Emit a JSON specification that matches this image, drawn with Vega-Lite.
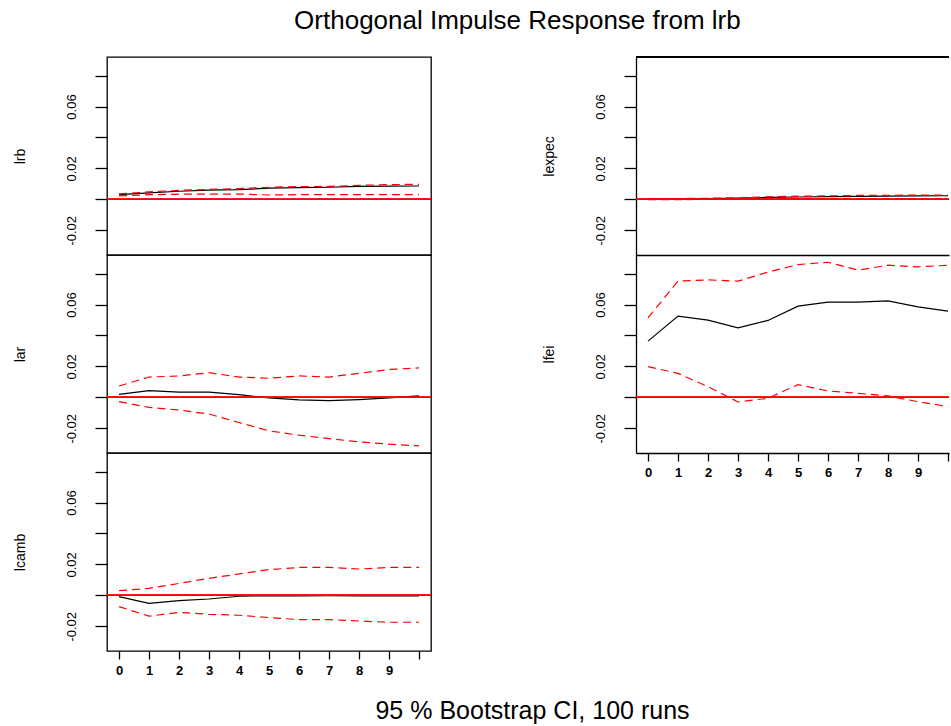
{
  "$schema": "https://vega.github.io/schema/vega-lite/v6.json",
  "padding": {"left": 12, "top": 8, "right": 0, "bottom": 0},
  "background": "white",
  "title": {"text": "Orthogonal Impulse Response from lrb", "fontSize": 26, "font": "Liberation Sans", "fontWeight": "normal", "color": "black", "anchor": "middle", "offset": 22, "dx": 36},
  "datasets": {
    "irf": [
      {"var": "lrb", "h": 0, "irf": 0.0030, "lower": 0.0022, "upper": 0.0035},
      {"var": "lrb", "h": 1, "irf": 0.0042, "lower": 0.0030, "upper": 0.0048},
      {"var": "lrb", "h": 2, "irf": 0.0052, "lower": 0.0033, "upper": 0.0058},
      {"var": "lrb", "h": 3, "irf": 0.0060, "lower": 0.0034, "upper": 0.0064},
      {"var": "lrb", "h": 4, "irf": 0.0063, "lower": 0.0034, "upper": 0.0069},
      {"var": "lrb", "h": 5, "irf": 0.0072, "lower": 0.0028, "upper": 0.0078},
      {"var": "lrb", "h": 6, "irf": 0.0075, "lower": 0.0030, "upper": 0.0082},
      {"var": "lrb", "h": 7, "irf": 0.0078, "lower": 0.0030, "upper": 0.0084},
      {"var": "lrb", "h": 8, "irf": 0.0083, "lower": 0.0030, "upper": 0.0090},
      {"var": "lrb", "h": 9, "irf": 0.0085, "lower": 0.0030, "upper": 0.0095},
      {"var": "lrb", "h": 10, "irf": 0.0086, "lower": 0.0030, "upper": 0.0097},
      {"var": "lar", "h": 0, "irf": 0.0019, "lower": -0.0028, "upper": 0.0073},
      {"var": "lar", "h": 1, "irf": 0.0043, "lower": -0.0065, "upper": 0.0131},
      {"var": "lar", "h": 2, "irf": 0.0034, "lower": -0.0082, "upper": 0.0138},
      {"var": "lar", "h": 3, "irf": 0.0034, "lower": -0.0108, "upper": 0.0159},
      {"var": "lar", "h": 4, "irf": 0.0017, "lower": -0.0163, "upper": 0.0131},
      {"var": "lar", "h": 5, "irf": -0.0004, "lower": -0.0217, "upper": 0.0123},
      {"var": "lar", "h": 6, "irf": -0.0017, "lower": -0.0245, "upper": 0.0138},
      {"var": "lar", "h": 7, "irf": -0.0022, "lower": -0.0267, "upper": 0.0131},
      {"var": "lar", "h": 8, "irf": -0.0015, "lower": -0.0288, "upper": 0.0155},
      {"var": "lar", "h": 9, "irf": -0.0004, "lower": -0.0303, "upper": 0.0180},
      {"var": "lar", "h": 10, "irf": 0.0009, "lower": -0.0314, "upper": 0.0190},
      {"var": "lcamb", "h": 0, "irf": -0.0009, "lower": -0.0073, "upper": 0.0030},
      {"var": "lcamb", "h": 1, "irf": -0.0052, "lower": -0.0135, "upper": 0.0045},
      {"var": "lcamb", "h": 2, "irf": -0.0034, "lower": -0.0110, "upper": 0.0077},
      {"var": "lcamb", "h": 3, "irf": -0.0024, "lower": -0.0123, "upper": 0.0110},
      {"var": "lcamb", "h": 4, "irf": -0.0006, "lower": -0.0129, "upper": 0.0138},
      {"var": "lcamb", "h": 5, "irf": -0.0002, "lower": -0.0144, "upper": 0.0166},
      {"var": "lcamb", "h": 6, "irf": -0.0004, "lower": -0.0157, "upper": 0.0180},
      {"var": "lcamb", "h": 7, "irf": -0.0002, "lower": -0.0157, "upper": 0.0180},
      {"var": "lcamb", "h": 8, "irf": -0.0004, "lower": -0.0166, "upper": 0.0170},
      {"var": "lcamb", "h": 9, "irf": -0.0004, "lower": -0.0174, "upper": 0.0180},
      {"var": "lcamb", "h": 10, "irf": -0.0004, "lower": -0.0174, "upper": 0.0180},
      {"var": "lexpec", "h": 0, "irf": 0.0000, "lower": -0.0002, "upper": 0.0003},
      {"var": "lexpec", "h": 1, "irf": 0.0002, "lower": -0.0002, "upper": 0.0005},
      {"var": "lexpec", "h": 2, "irf": 0.0004, "lower": 0.0000, "upper": 0.0007},
      {"var": "lexpec", "h": 3, "irf": 0.0008, "lower": 0.0003, "upper": 0.0010},
      {"var": "lexpec", "h": 4, "irf": 0.0012, "lower": 0.0005, "upper": 0.0016},
      {"var": "lexpec", "h": 5, "irf": 0.0015, "lower": 0.0004, "upper": 0.0020},
      {"var": "lexpec", "h": 6, "irf": 0.0017, "lower": 0.0005, "upper": 0.0022},
      {"var": "lexpec", "h": 7, "irf": 0.0019, "lower": 0.0005, "upper": 0.0025},
      {"var": "lexpec", "h": 8, "irf": 0.0021, "lower": 0.0004, "upper": 0.0026},
      {"var": "lexpec", "h": 9, "irf": 0.0022, "lower": 0.0004, "upper": 0.0027},
      {"var": "lexpec", "h": 10, "irf": 0.0023, "lower": 0.0004, "upper": 0.0028},
      {"var": "lfei", "h": 0, "irf": 0.0363, "lower": 0.0198, "upper": 0.0514},
      {"var": "lfei", "h": 1, "irf": 0.0525, "lower": 0.0155, "upper": 0.0751},
      {"var": "lfei", "h": 2, "irf": 0.0499, "lower": 0.0069, "upper": 0.0759},
      {"var": "lfei", "h": 3, "irf": 0.0449, "lower": -0.0030, "upper": 0.0751},
      {"var": "lfei", "h": 4, "irf": 0.0497, "lower": -0.0006, "upper": 0.0809},
      {"var": "lfei", "h": 5, "irf": 0.0589, "lower": 0.0082, "upper": 0.0858},
      {"var": "lfei", "h": 6, "irf": 0.0615, "lower": 0.0041, "upper": 0.0873},
      {"var": "lfei", "h": 7, "irf": 0.0615, "lower": 0.0026, "upper": 0.0822},
      {"var": "lfei", "h": 8, "irf": 0.0624, "lower": 0.0009, "upper": 0.0854},
      {"var": "lfei", "h": 9, "irf": 0.0585, "lower": -0.0028, "upper": 0.0843},
      {"var": "lfei", "h": 10, "irf": 0.0557, "lower": -0.0060, "upper": 0.0854}
    ]
  },
  "data": {"name": "irf"},
  "bounds": "flush",
  "spacing": 529,
  "hconcat": [
    {
      "bounds": "flush",
      "spacing": 0,
      "vconcat": [
        {
          "width": 324, "height": 198,
          "transform": [{"filter": {"field": "var", "equal": "lrb"}}],
          "layer": [
            {"mark": {"type": "line", "color": "black", "strokeWidth": 1.2},
             "encoding": {
               "x": {"field": "h", "type": "quantitative", "scale": {"domain": [-0.4, 10.4], "nice": false, "zero": false}, "axis": null},
               "y": {"field": "irf", "type": "quantitative", "title": "lrb", "scale": {"domain": [-0.036, 0.092], "nice": false, "zero": false},
                     "axis": {"values": [-0.02, 0, 0.02, 0.04, 0.06, 0.08], "labelExpr": "datum.value < -0.01 ? '-0.02' : (datum.value > 0.01 && datum.value < 0.03) ? '0.02' : (datum.value > 0.05 && datum.value < 0.07) ? '0.06' : ''"}}}},
            {"mark": {"type": "line", "color": "#ff0000", "strokeWidth": 1.2, "strokeDash": [8, 5]},
             "encoding": {"x": {"field": "h", "type": "quantitative", "axis": null}, "y": {"field": "upper", "type": "quantitative", "title": "lrb", "axis": {"values": [-0.02, 0, 0.02, 0.04, 0.06, 0.08], "labelExpr": "datum.value < -0.01 ? '-0.02' : (datum.value > 0.01 && datum.value < 0.03) ? '0.02' : (datum.value > 0.05 && datum.value < 0.07) ? '0.06' : ''"}}}},
            {"mark": {"type": "line", "color": "#ff0000", "strokeWidth": 1.2, "strokeDash": [8, 5]},
             "encoding": {"x": {"field": "h", "type": "quantitative", "axis": null}, "y": {"field": "lower", "type": "quantitative", "title": "lrb", "axis": {"values": [-0.02, 0, 0.02, 0.04, 0.06, 0.08], "labelExpr": "datum.value < -0.01 ? '-0.02' : (datum.value > 0.01 && datum.value < 0.03) ? '0.02' : (datum.value > 0.05 && datum.value < 0.07) ? '0.06' : ''"}}}},
            {"mark": {"type": "rule", "color": "#ff0000", "strokeWidth": 1},
             "encoding": {"y": {"datum": 0, "type": "quantitative", "title": "lrb", "axis": {"values": [-0.02, 0, 0.02, 0.04, 0.06, 0.08], "labelExpr": "datum.value < -0.01 ? '-0.02' : (datum.value > 0.01 && datum.value < 0.03) ? '0.02' : (datum.value > 0.05 && datum.value < 0.07) ? '0.06' : ''"}}}}
          ]
        },
        {
          "width": 324, "height": 198,
          "transform": [{"filter": {"field": "var", "equal": "lar"}}],
          "layer": [
            {"mark": {"type": "line", "color": "black", "strokeWidth": 1.2},
             "encoding": {
               "x": {"field": "h", "type": "quantitative", "scale": {"domain": [-0.4, 10.4], "nice": false, "zero": false}, "axis": null},
               "y": {"field": "irf", "type": "quantitative", "title": "lar", "scale": {"domain": [-0.036, 0.092], "nice": false, "zero": false},
                     "axis": {"values": [-0.02, 0, 0.02, 0.04, 0.06, 0.08], "labelExpr": "datum.value < -0.01 ? '-0.02' : (datum.value > 0.01 && datum.value < 0.03) ? '0.02' : (datum.value > 0.05 && datum.value < 0.07) ? '0.06' : ''"}}}},
            {"mark": {"type": "line", "color": "#ff0000", "strokeWidth": 1.2, "strokeDash": [8, 5]},
             "encoding": {"x": {"field": "h", "type": "quantitative", "axis": null}, "y": {"field": "upper", "type": "quantitative", "title": "lar", "axis": {"values": [-0.02, 0, 0.02, 0.04, 0.06, 0.08], "labelExpr": "datum.value < -0.01 ? '-0.02' : (datum.value > 0.01 && datum.value < 0.03) ? '0.02' : (datum.value > 0.05 && datum.value < 0.07) ? '0.06' : ''"}}}},
            {"mark": {"type": "line", "color": "#ff0000", "strokeWidth": 1.2, "strokeDash": [8, 5]},
             "encoding": {"x": {"field": "h", "type": "quantitative", "axis": null}, "y": {"field": "lower", "type": "quantitative", "title": "lar", "axis": {"values": [-0.02, 0, 0.02, 0.04, 0.06, 0.08], "labelExpr": "datum.value < -0.01 ? '-0.02' : (datum.value > 0.01 && datum.value < 0.03) ? '0.02' : (datum.value > 0.05 && datum.value < 0.07) ? '0.06' : ''"}}}},
            {"mark": {"type": "rule", "color": "#ff0000", "strokeWidth": 1},
             "encoding": {"y": {"datum": 0, "type": "quantitative", "title": "lar", "axis": {"values": [-0.02, 0, 0.02, 0.04, 0.06, 0.08], "labelExpr": "datum.value < -0.01 ? '-0.02' : (datum.value > 0.01 && datum.value < 0.03) ? '0.02' : (datum.value > 0.05 && datum.value < 0.07) ? '0.06' : ''"}}}}
          ]
        },
        {
          "width": 324, "height": 198,
          "transform": [{"filter": {"field": "var", "equal": "lcamb"}}],
          "layer": [
            {"mark": {"type": "line", "color": "black", "strokeWidth": 1.2},
             "encoding": {
               "x": {"field": "h", "type": "quantitative", "title": "95 % Bootstrap CI,  100 runs", "scale": {"domain": [-0.4, 10.4], "nice": false, "zero": false},
                     "axis": {"values": [0, 1, 2, 3, 4, 5, 6, 7, 8, 9, 10], "labelExpr": "datum.value < 9.5 ? datum.label : ''", "labelOverlap": false,
                              "titleFontSize": 25, "titleX": 425, "titleY": 67, "titleAlign": "center", "titleBaseline": "alphabetic"}},
               "y": {"field": "irf", "type": "quantitative", "title": "lcamb", "scale": {"domain": [-0.036, 0.092], "nice": false, "zero": false},
                     "axis": {"values": [-0.02, 0, 0.02, 0.04, 0.06, 0.08], "labelExpr": "datum.value < -0.01 ? '-0.02' : (datum.value > 0.01 && datum.value < 0.03) ? '0.02' : (datum.value > 0.05 && datum.value < 0.07) ? '0.06' : ''"}}}},
            {"mark": {"type": "line", "color": "#ff0000", "strokeWidth": 1.2, "strokeDash": [8, 5]},
             "encoding": {"x": {"field": "h", "type": "quantitative", "title": "95 % Bootstrap CI,  100 runs",
                     "axis": {"values": [0, 1, 2, 3, 4, 5, 6, 7, 8, 9, 10], "labelExpr": "datum.value < 9.5 ? datum.label : ''", "labelOverlap": false,
                              "titleFontSize": 25, "titleX": 425, "titleY": 67, "titleAlign": "center", "titleBaseline": "alphabetic"}},
                          "y": {"field": "upper", "type": "quantitative", "title": "lcamb", "axis": {"values": [-0.02, 0, 0.02, 0.04, 0.06, 0.08], "labelExpr": "datum.value < -0.01 ? '-0.02' : (datum.value > 0.01 && datum.value < 0.03) ? '0.02' : (datum.value > 0.05 && datum.value < 0.07) ? '0.06' : ''"}}}},
            {"mark": {"type": "line", "color": "#ff0000", "strokeWidth": 1.2, "strokeDash": [8, 5]},
             "encoding": {"x": {"field": "h", "type": "quantitative", "title": "95 % Bootstrap CI,  100 runs",
                     "axis": {"values": [0, 1, 2, 3, 4, 5, 6, 7, 8, 9, 10], "labelExpr": "datum.value < 9.5 ? datum.label : ''", "labelOverlap": false,
                              "titleFontSize": 25, "titleX": 425, "titleY": 67, "titleAlign": "center", "titleBaseline": "alphabetic"}},
                          "y": {"field": "lower", "type": "quantitative", "title": "lcamb", "axis": {"values": [-0.02, 0, 0.02, 0.04, 0.06, 0.08], "labelExpr": "datum.value < -0.01 ? '-0.02' : (datum.value > 0.01 && datum.value < 0.03) ? '0.02' : (datum.value > 0.05 && datum.value < 0.07) ? '0.06' : ''"}}}},
            {"mark": {"type": "rule", "color": "#ff0000", "strokeWidth": 1},
             "encoding": {"y": {"datum": 0, "type": "quantitative", "title": "lcamb", "axis": {"values": [-0.02, 0, 0.02, 0.04, 0.06, 0.08], "labelExpr": "datum.value < -0.01 ? '-0.02' : (datum.value > 0.01 && datum.value < 0.03) ? '0.02' : (datum.value > 0.05 && datum.value < 0.07) ? '0.06' : ''"}}}}
          ]
        }
      ]
    },
    {
      "bounds": "flush",
      "spacing": 0,
      "vconcat": [
        {
          "width": 313, "height": 198,
          "view": {"stroke": null},
          "transform": [{"filter": {"field": "var", "equal": "lexpec"}}],
          "layer": [
            {"mark": {"type": "line", "color": "black", "strokeWidth": 1.2},
             "encoding": {
               "x": {"field": "h", "type": "quantitative", "title": null, "scale": {"domain": [-0.4, 10.033], "nice": false, "zero": false},
                     "axis": {"domain": true, "ticks": false, "labels": false}},
               "y": {"field": "irf", "type": "quantitative", "title": "lexpec", "scale": {"domain": [-0.036, 0.092], "nice": false, "zero": false},
                     "axis": {"domain": true, "values": [-0.02, 0, 0.02, 0.04, 0.06, 0.08], "labelExpr": "datum.value < -0.01 ? '-0.02' : (datum.value > 0.01 && datum.value < 0.03) ? '0.02' : (datum.value > 0.05 && datum.value < 0.07) ? '0.06' : ''"}}}},
            {"mark": {"type": "line", "color": "#ff0000", "strokeWidth": 1.2, "strokeDash": [8, 5]},
             "encoding": {"x": {"field": "h", "type": "quantitative", "title": null, "axis": {"domain": true, "ticks": false, "labels": false}},
                          "y": {"field": "upper", "type": "quantitative", "title": "lexpec", "axis": {"domain": true, "values": [-0.02, 0, 0.02, 0.04, 0.06, 0.08], "labelExpr": "datum.value < -0.01 ? '-0.02' : (datum.value > 0.01 && datum.value < 0.03) ? '0.02' : (datum.value > 0.05 && datum.value < 0.07) ? '0.06' : ''"}}}},
            {"mark": {"type": "line", "color": "#ff0000", "strokeWidth": 1.2, "strokeDash": [8, 5]},
             "encoding": {"x": {"field": "h", "type": "quantitative", "title": null, "axis": {"domain": true, "ticks": false, "labels": false}},
                          "y": {"field": "lower", "type": "quantitative", "title": "lexpec", "axis": {"domain": true, "values": [-0.02, 0, 0.02, 0.04, 0.06, 0.08], "labelExpr": "datum.value < -0.01 ? '-0.02' : (datum.value > 0.01 && datum.value < 0.03) ? '0.02' : (datum.value > 0.05 && datum.value < 0.07) ? '0.06' : ''"}}}},
            {"mark": {"type": "rule", "color": "#ff0000", "strokeWidth": 1},
             "encoding": {"y": {"datum": 0, "type": "quantitative", "title": "lexpec", "axis": {"domain": true, "values": [-0.02, 0, 0.02, 0.04, 0.06, 0.08], "labelExpr": "datum.value < -0.01 ? '-0.02' : (datum.value > 0.01 && datum.value < 0.03) ? '0.02' : (datum.value > 0.05 && datum.value < 0.07) ? '0.06' : ''"}}}},
            {"mark": {"type": "rule", "color": "black", "strokeWidth": 1.3},
             "encoding": {"y": {"datum": 0.092, "type": "quantitative", "title": "lexpec", "axis": {"domain": true, "values": [-0.02, 0, 0.02, 0.04, 0.06, 0.08], "labelExpr": "datum.value < -0.01 ? '-0.02' : (datum.value > 0.01 && datum.value < 0.03) ? '0.02' : (datum.value > 0.05 && datum.value < 0.07) ? '0.06' : ''"}}}}
          ]
        },
        {
          "width": 313, "height": 198,
          "view": {"stroke": null},
          "transform": [{"filter": {"field": "var", "equal": "lfei"}}],
          "layer": [
            {"mark": {"type": "line", "color": "black", "strokeWidth": 1.2},
             "encoding": {
               "x": {"field": "h", "type": "quantitative", "title": null, "scale": {"domain": [-0.4, 10.033], "nice": false, "zero": false},
                     "axis": {"domain": true, "values": [0, 1, 2, 3, 4, 5, 6, 7, 8, 9, 10], "labelExpr": "datum.value < 9.5 ? datum.label : ''", "labelOverlap": false}},
               "y": {"field": "irf", "type": "quantitative", "title": "lfei", "scale": {"domain": [-0.036, 0.092], "nice": false, "zero": false},
                     "axis": {"domain": true, "values": [-0.02, 0, 0.02, 0.04, 0.06, 0.08], "labelExpr": "datum.value < -0.01 ? '-0.02' : (datum.value > 0.01 && datum.value < 0.03) ? '0.02' : (datum.value > 0.05 && datum.value < 0.07) ? '0.06' : ''"}}}},
            {"mark": {"type": "line", "color": "#ff0000", "strokeWidth": 1.2, "strokeDash": [8, 5]},
             "encoding": {"x": {"field": "h", "type": "quantitative", "title": null, "axis": {"domain": true, "values": [0, 1, 2, 3, 4, 5, 6, 7, 8, 9, 10], "labelExpr": "datum.value < 9.5 ? datum.label : ''", "labelOverlap": false}},
                          "y": {"field": "upper", "type": "quantitative", "title": "lfei", "axis": {"domain": true, "values": [-0.02, 0, 0.02, 0.04, 0.06, 0.08], "labelExpr": "datum.value < -0.01 ? '-0.02' : (datum.value > 0.01 && datum.value < 0.03) ? '0.02' : (datum.value > 0.05 && datum.value < 0.07) ? '0.06' : ''"}}}},
            {"mark": {"type": "line", "color": "#ff0000", "strokeWidth": 1.2, "strokeDash": [8, 5]},
             "encoding": {"x": {"field": "h", "type": "quantitative", "title": null, "axis": {"domain": true, "values": [0, 1, 2, 3, 4, 5, 6, 7, 8, 9, 10], "labelExpr": "datum.value < 9.5 ? datum.label : ''", "labelOverlap": false}},
                          "y": {"field": "lower", "type": "quantitative", "title": "lfei", "axis": {"domain": true, "values": [-0.02, 0, 0.02, 0.04, 0.06, 0.08], "labelExpr": "datum.value < -0.01 ? '-0.02' : (datum.value > 0.01 && datum.value < 0.03) ? '0.02' : (datum.value > 0.05 && datum.value < 0.07) ? '0.06' : ''"}}}},
            {"mark": {"type": "rule", "color": "#ff0000", "strokeWidth": 1},
             "encoding": {"y": {"datum": 0, "type": "quantitative", "title": "lfei", "axis": {"domain": true, "values": [-0.02, 0, 0.02, 0.04, 0.06, 0.08], "labelExpr": "datum.value < -0.01 ? '-0.02' : (datum.value > 0.01 && datum.value < 0.03) ? '0.02' : (datum.value > 0.05 && datum.value < 0.07) ? '0.06' : ''"}}}}
          ]
        }
      ]
    }
  ],
  "config": {
    "font": "Liberation Sans",
    "view": {"stroke": "black", "strokeWidth": 1.3},
    "axis": {"grid": false, "domain": false, "domainColor": "black", "domainWidth": 1.3, "tickColor": "black", "tickWidth": 1.3,
             "labelColor": "black", "titleColor": "black", "labelFont": "Liberation Sans", "titleFont": "Liberation Sans", "titleFontWeight": "normal", "labelOverlap": false},
    "axisY": {"labelAngle": 270, "labelAlign": "center", "labelBaseline": "bottom", "labelFontSize": 13, "tickSize": 12, "labelPadding": 17, "titleFontSize": 14, "titlePadding": 38},
    "axisX": {"labelFontSize": 13, "labelFontWeight": "bold", "tickSize": 8, "labelPadding": 5}
  }
}
